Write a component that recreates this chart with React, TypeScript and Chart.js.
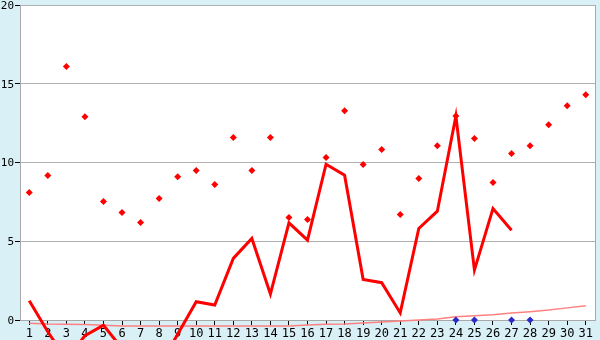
import React, { useEffect, useRef } from "react";
import { Chart, registerables } from "chart.js";

Chart.register(...registerables);

const days = [
  "1", "2", "3", "4", "5", "6", "7", "8", "9", "10",
  "11", "12", "13", "14", "15", "16", "17", "18", "19", "20",
  "21", "22", "23", "24", "25", "26", "27", "28", "29", "30", "31",
];

const markerValues = [
  8.09, 9.17, 16.1, 12.9, 7.52, 6.83, 6.19, 7.71, 9.1, 9.49,
  8.6, 11.58, 9.49, 11.58, 6.51, 6.38, 10.31, 13.29, 9.87, 10.82,
  6.7, 8.98, 11.07, 12.95, 11.52, 8.73, 10.57, 11.07, 12.4, 13.61, 14.3,
];

const lineValues = [
  1.22, -0.75, -2.5, -1.0, -0.33, -1.8, -2.5, -3.0, -0.9, 1.16,
  0.95, 3.91, 5.18, 1.65, 6.17, 5.07, 9.89, 9.19, 2.58, 2.37,
  0.45, 5.81, 6.91, 12.95, 3.17, 7.08, 5.7, null, null, null, null,
];

const trendValues = [
  -0.21, -0.26, -0.27, -0.28, -0.33, -0.38, -0.38, -0.38, -0.38, -0.38,
  -0.38, -0.38, -0.38, -0.38, -0.38, -0.32, -0.27, -0.25, -0.19, -0.13,
  -0.06, 0.0, 0.06, 0.2, 0.27, 0.34, 0.44, 0.53, 0.63, 0.77, 0.91,
];

const blueMarks = [
  null, null, null, null, null, null, null, null, null, null,
  null, null, null, null, null, null, null, null, null, null,
  null, null, null, 0, 0, null, 0, 0, null, null, null,
];

const yTicks = [0, 5, 10, 15, 20];

const bgPlugin = {
  id: "bgPlugin",
  beforeDraw(chart: any) {
    const { ctx, chartArea, width, height } = chart;
    ctx.save();
    ctx.fillStyle = "#daf0f7";
    ctx.fillRect(0, 0, width, height);
    ctx.fillStyle = "#ffffff";
    ctx.fillRect(chartArea.left, chartArea.top, chartArea.right - chartArea.left, chartArea.bottom - chartArea.top);
    ctx.restore();
  },
  afterDraw(chart: any) {
    const { ctx, chartArea } = chart;
    ctx.save();
    ctx.strokeStyle = "#a8a8a8";
    ctx.lineWidth = 1;
    ctx.beginPath();
    const x = Math.round(chartArea.right) + 0.5;
    ctx.moveTo(x, chartArea.top);
    ctx.lineTo(x, chartArea.bottom);
    ctx.stroke();
    ctx.restore();
  },
};

export default function App() {
  const ref = useRef<HTMLCanvasElement>(null);
  useEffect(() => {
    if (!ref.current) return;
    const xFont = { family: "'DejaVu Sans Mono', monospace", size: 12 };
    const yFont = { family: "'DejaVu Sans Mono', monospace", size: 11 };
    const chart = new Chart(ref.current, {
      type: "line",
      data: {
        labels: days,
        datasets: [
          {
            data: markerValues,
            showLine: false,
            pointStyle: "rectRot",
            pointRadius: 3.5,
            pointBackgroundColor: "#ff0000",
            pointBorderColor: "#ff0000",
            pointBorderWidth: 0,
            clip: false,
          },
          {
            data: blueMarks,
            showLine: false,
            pointStyle: "rectRot",
            pointRadius: 3.5,
            pointBackgroundColor: "#2a2ac8",
            pointBorderColor: "#2a2ac8",
            pointBorderWidth: 0,
            clip: false,
          },
          {
            data: lineValues,
            borderColor: "#ff0000",
            borderWidth: 3,
            pointRadius: 0,
            tension: 0,
            spanGaps: false,
            clip: false,
          },
          {
            data: trendValues,
            borderColor: "#ff8080",
            borderWidth: 1.5,
            pointRadius: 0,
            tension: 0,
            clip: false,
          },
        ] as any,
      },
      options: {
        animation: false,
        responsive: false,
        events: [],
        layout: { padding: { top: 5, right: 5, left: 0, bottom: 0 } },
        plugins: { legend: { display: false }, tooltip: { enabled: false } },
        scales: {
          x: {
            offset: true,
            grid: {
              offset: false,
              drawOnChartArea: false,
              tickLength: 5,
              tickColor: "#000000",
            },
            border: { color: "#a8a8a8" },
            ticks: { font: xFont, color: "#000000", padding: 2, maxRotation: 0, autoSkip: false },
            afterFit(scale: any) {
              scale.height = 20;
              scale.paddingLeft = 0;
              scale.paddingRight = 0;
            },
          },
          y: {
            min: 0,
            max: 20,
            afterBuildTicks(scale: any) {
              scale.ticks = yTicks.map((v) => ({ value: v }));
            },
            grid: { color: "#b0b0b0", tickLength: 5, tickColor: "#000000" },
            border: { color: "#a8a8a8" },
            ticks: { font: yFont, color: "#000000", padding: 1, labelOffset: 1 },
            afterFit(scale: any) {
              scale.width = 20;
              scale.paddingTop = 0;
              scale.paddingBottom = 0;
            },
          },
        },
      },
      plugins: [bgPlugin],
    });
    return () => chart.destroy();
  }, []);
  return (
    <div style={{ position: "fixed", left: 0, top: 0, width: 600, height: 340 }}>
      <canvas ref={ref} width={600} height={340} />
    </div>
  );
}
